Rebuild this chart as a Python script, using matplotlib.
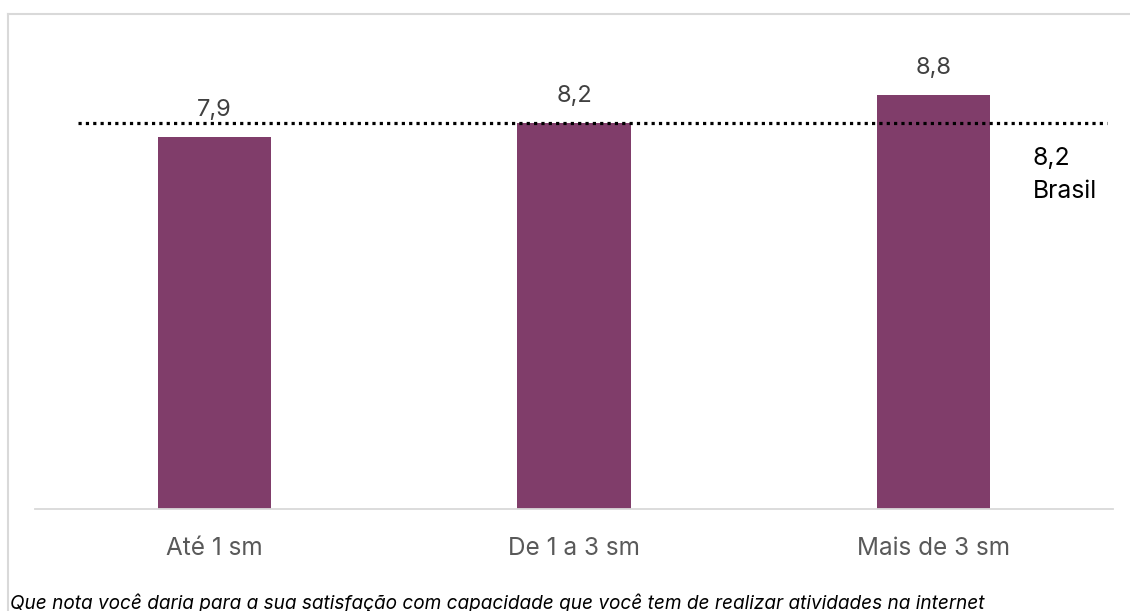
import matplotlib
matplotlib.use("Agg")
import matplotlib.pyplot as plt
from matplotlib.lines import Line2D

# Satisfaction score by household income band
categories = ["Até 1 sm", "De 1 a 3 sm", "Mais de 3 sm"]
scores = [7.9, 8.2, 8.8]
brasil_score = 8.2
brasil_label = "Brasil"
caption = ("Que nota você daria para a sua satisfação com capacidade que você tem "
           "de realizar atividades na internet")

plt.rcParams["font.family"] = ["Inter", "DejaVu Sans"]

W, H, DPI = 1130, 611, 100
fig = plt.figure(figsize=(W / DPI, H / DPI), dpi=DPI)
fig.patch.set_facecolor("white")

ax = fig.add_axes([35 / W, 1 - 509 / H, (1113 - 35) / W, (509 - 38.5) / H])

def fmt(v):
    return f"{v:.1f}".replace(".", ",")

x = list(range(len(categories)))
bars = ax.bar(x, scores, width=0.315, color="#803D6A", zorder=2)

for xi, v in zip(x, scores):
    ax.annotate(fmt(v), (xi, v), xytext=(0, 11.5), textcoords="offset points",
                ha="center", va="bottom", fontsize=17, color="#404040", zorder=4)

# National reference line
ax.axhline(brasil_score, xmin=43 / 1078, xmax=1072 / 1078, color="black",
           lw=2.3, linestyle=(0, (1, 1.3)), dash_capstyle="butt", zorder=3)
ax.text(1033 / W, 1 - 147 / H, f"{fmt(brasil_score)}\n{brasil_label}",
        transform=fig.transFigure, ha="left", va="top", fontsize=17.8,
        color="black", linespacing=1.55)

ax.set_xlim(-0.5, 2.5)
ax.set_ylim(0, 10)
ax.set_yticks([])
ax.set_xticks(x)
ax.set_xticklabels(categories, fontsize=17.5, color="#595959")
ax.tick_params(axis="x", length=0, pad=20)
for side in ["top", "right", "left"]:
    ax.spines[side].set_visible(False)
ax.spines["bottom"].set_color("#D9D9D9")
ax.spines["bottom"].set_linewidth(1.3)
ax.set_facecolor("none")

# Caption
fig.text(10 / W, 1 - 603 / H, caption, ha="left", va="center", fontsize=13.7,
         style="italic", color="black")

# Frame around the chart area
frame = "#D9D9D9"
fig.add_artist(Line2D([7.5 / W, 7.5 / W], [1 - 13.5 / H, 0], transform=fig.transFigure,
                      color=frame, lw=1.5))
fig.add_artist(Line2D([7.5 / W, 1], [1 - 13.5 / H, 1 - 13.5 / H], transform=fig.transFigure,
                      color=frame, lw=1.5))

fig.savefig("out.png", dpi=DPI, facecolor="white")
